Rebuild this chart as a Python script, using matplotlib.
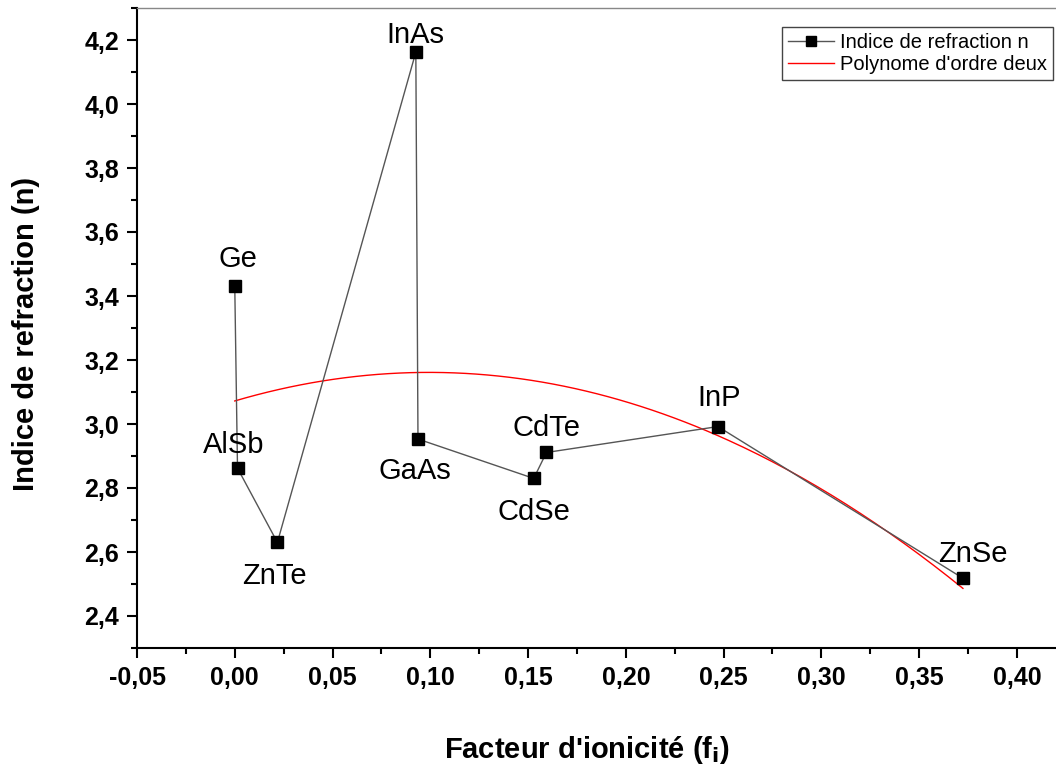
import numpy as np
import matplotlib
matplotlib.use('Agg')
import matplotlib.pyplot as plt
from matplotlib.ticker import MultipleLocator, FuncFormatter

plt.rcParams['font.family'] = ['Liberation Sans', 'DejaVu Sans']

# Donnees
materiaux = ['Ge', 'AlSb', 'ZnTe', 'InAs', 'GaAs', 'CdSe', 'CdTe', 'InP', 'ZnSe']
fi = [0.000, 0.0014, 0.0218, 0.0926, 0.0937, 0.1529, 0.1594, 0.2471, 0.3724]
n = [3.431, 2.862, 2.630, 4.162, 2.953, 2.830, 2.911, 2.992, 2.518]

# decalage des etiquettes (points) : (dx, dy), dy>0 au-dessus
decalage = {'Ge': (2, 14), 'AlSb': (-3, 11), 'ZnTe': (-2, -14), 'InAs': (0, 6.5),
            'GaAs': (-2, -13), 'CdSe': (0, -14), 'CdTe': (0, 12), 'InP': (1, 14.5),
            'ZnSe': (7, 11.5)}

fi = np.array(fi)
n = np.array(n)

# Polynome d'ordre deux (ajustement)
coef = np.polyfit(fi, n, 2)
xf = np.linspace(fi.min(), fi.max(), 200)
yf = np.polyval(coef, xf)

fig = plt.figure(figsize=(10.56, 7.67), dpi=100)
ax = fig.add_axes([137/1056, 119/767, 919/1056, 640/767])

ax.plot(fi, n, '-', color='#555555', lw=1.0, marker='s', ms=9,
        mfc='black', mec='black', label='Indice de refraction n', zorder=3)
ax.plot(xf, yf, '-', color='red', lw=1.0, label="Polynome d'ordre deux", zorder=2)

for nom, x, y in zip(materiaux, fi, n):
    dx, dy = decalage[nom]
    ax.annotate(nom, (x, y), xytext=(dx, dy), textcoords='offset points',
                ha='center', va='baseline' if dy > 0 else 'top', fontsize=21)

ax.set_xlim(-0.05, 0.42)
ax.set_ylim(2.3, 4.3)
ax.xaxis.set_major_locator(MultipleLocator(0.05))
ax.xaxis.set_minor_locator(MultipleLocator(0.025))
ax.yaxis.set_major_locator(MultipleLocator(0.2))
ax.yaxis.set_minor_locator(MultipleLocator(0.1))
ax.xaxis.set_major_formatter(FuncFormatter(lambda v, p: ('%.2f' % v).replace('.', ',')))
ax.yaxis.set_major_formatter(FuncFormatter(lambda v, p: ('%.1f' % v).replace('.', ',')))

ax.tick_params(which='major', direction='out', length=7, width=1.5, labelsize=18, pad=6)
ax.tick_params(which='minor', direction='out', length=4, width=1.5)
for lab in ax.get_xticklabels() + ax.get_yticklabels():
    lab.set_fontweight('bold')

ax.spines['left'].set_linewidth(1.5)
ax.spines['bottom'].set_linewidth(1.5)
ax.spines['right'].set_visible(False)
ax.spines['top'].set_color('#888888')
ax.spines['top'].set_linewidth(1.0)

ax.set_xlabel(r"Facteur d'ionicité (f$_\mathbf{i}$)", fontsize=21, fontweight='bold', labelpad=30)
ax.xaxis.set_label_coords(0.49, -0.135)
ax.set_ylabel('Indice de refraction (n)', fontsize=21, fontweight='bold')
ax.yaxis.set_label_coords(-0.106, 0.49)

leg = ax.legend(loc='upper right', bbox_to_anchor=(0.997, 0.97), fontsize=14.5,
                frameon=True, fancybox=False, edgecolor='#444444', framealpha=1,
                handlelength=2.3, handletextpad=0.3, borderpad=0.3,
                labelspacing=0.15, markerscale=0.8, borderaxespad=0)
leg.get_frame().set_linewidth(1.0)

plt.savefig('out.png', dpi=100)
